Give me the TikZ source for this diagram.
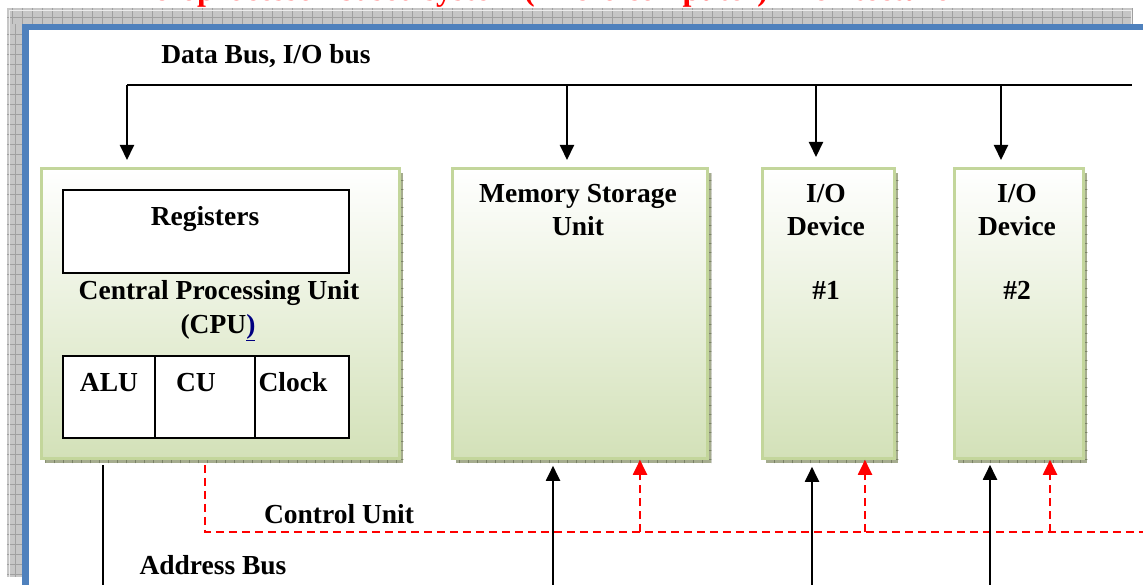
\documentclass[tikz,border=0pt]{standalone}
\usepackage{fontspec}
\setmainfont{Liberation Serif}
\usetikzlibrary{arrows.meta,patterns.meta,shadows}
\definecolor{frameblue}{HTML}{4F81BD}
\definecolor{bandgray}{HTML}{C6C6C6}
\definecolor{bandline}{HTML}{A0A0A0}
\definecolor{boxgreen}{HTML}{D3E1B8}
\definecolor{boxborder}{HTML}{C3D69B}
\definecolor{shadowc}{HTML}{A5AC8E}
\definecolor{shadowtick}{HTML}{7A8266}
\definecolor{linkblue}{HTML}{000080}
\begin{document}
\begin{tikzpicture}[x=1pt,y=-1pt,
  lbl/.style={font=\fontsize{27.5}{32}\selectfont\bfseries, inner sep=0pt, anchor=base},
  unitbox/.style={draw=boxborder, line width=2.8pt, top color=white, bottom color=boxgreen,
    anchor=north west, inner sep=0pt, minimum height=290pt,
    general shadow={shadow xshift=4pt, shadow yshift=-5pt, fill=shadowc},
    general shadow={shadow xshift=4pt, shadow yshift=-5pt, pattern={Lines[angle=90,distance=9pt,line width=0.6pt]}, pattern color=shadowtick},
    general shadow={shadow xshift=4pt, shadow yshift=-5pt, pattern={Lines[angle=0,distance=9pt,line width=0.6pt]}, pattern color=shadowtick}},
  partbox/.style={draw=black, line width=2pt, fill=white, anchor=north west, inner sep=0pt},
  busline/.style={line width=2.4pt},
  plainline/.style={line width=2pt},
  darr/.style={line width=2pt, -{Triangle[length=15pt,width=14pt]}},
  ctl/.style={red, line width=2pt, dash pattern=on 8pt off 5pt},
  ctlarr/.style={ctl, -{Triangle[length=15pt,width=14pt]}}
]
\useasboundingbox (0,0) rectangle (1143,585);
\begin{scope}
\clip (0,0) rectangle (1143,585);
% gray grid band
\fill[bandgray] (7,8) rectangle (1133,577);
\foreach \x in {12,22,...,1132} \draw[bandline,line width=0.6pt] (\x,8) -- (\x,24);
\foreach \y in {34,44,...,574} \draw[bandline,line width=0.6pt] (7,\y) -- (22,\y);
\draw[bandline,line width=0.6pt] (7,17.5) -- (1133,17.5);
\draw[bandline,line width=0.6pt] (15,24) -- (15,577);
\draw[white!85!gray,line width=0.8pt] (9,577) -- (9,10) -- (1131,10) -- (1131,24);
% blue frame
\draw[frameblue, line width=6.5pt, fill=white] (25.5,27) rectangle (1180,640);
% title (cut off at the top edge, as in the reference)
\node[font=\fontsize{32}{36}\selectfont\bfseries, text=red, anchor=base west, inner sep=0pt] (title) at (114,0.5) {Microprocessor-based system (Micro computer) Architecture};

% boxes
\node[unitbox, minimum width=358pt] (cpu) at (40,167) {};
\node[unitbox, minimum width=255pt] (mem) at (451,167) {};
\node[unitbox, minimum width=132pt] (io1) at (761,167) {};
\node[unitbox, minimum width=129pt] (io2) at (953,167) {};

\node[partbox, minimum width=286pt, minimum height=83pt] (reg) at (62,189) {};
\node[partbox, minimum width=92pt, minimum height=82pt] (alu) at (62,355) {};
\node[partbox, minimum width=100pt, minimum height=82pt] (cu) at (154,355) {};
\node[partbox, minimum width=94pt, minimum height=82pt] (clk) at (254,355) {};

% texts
\node[lbl] (dbus) at (266,64) {Data Bus, I/O bus};
\node[lbl] (regt) at (205,226) {Registers};
\node[lbl] (cput1) at (219,300) {Central Processing Unit};
\node[lbl] (cput2) at (218,333) {(CPU\textcolor{linkblue}{\underline{)}}};
\node[lbl] (alut) at (109,391) {ALU};
\node[lbl] (cut) at (196,391) {CU};
\node[lbl] (clkt) at (293,391) {Clock};
\node[lbl] (memt1) at (578,203) {Memory Storage};
\node[lbl] (memt2) at (578,236) {Unit};
\node[lbl] (io1a) at (826,203) {I/O};
\node[lbl] (io1b) at (826,236) {Device};
\node[lbl] (io1c) at (826,300) {\#1};
\node[lbl] (io2a) at (1017,203) {I/O};
\node[lbl] (io2b) at (1017,236) {Device};
\node[lbl] (io2c) at (1017,300) {\#2};
\node[lbl] (ctlt) at (339,523) {Control Unit};
\node[lbl] (abus) at (213,574) {Address Bus};

% data bus
\coordinate (busL) at (127,85);
\coordinate (busR) at (1132,85);
\coordinate (tm) at (567,85);
\coordinate (t1) at (816,85);
\coordinate (t2) at (1001,85);
\draw[busline] (busL) -- (busR);
\draw[darr, shorten >=7pt] (busL) -- (busL |- cpu.north);
\draw[darr, shorten >=7pt] (tm) -- (tm |- mem.north);
\draw[darr, shorten >=10pt] (t1) -- (t1 |- io1.north);
\draw[darr, shorten >=7pt] (t2) -- (t2 |- io2.north);

% control unit (dashed red)
\coordinate (cL) at (205,532);
\coordinate (cR) at (1160,532);
\coordinate (cm) at (640,532);
\coordinate (c1) at (865,532);
\coordinate (c2) at (1050,532);
\draw[ctl, shorten <=5pt] (cL |- cpu.south) -- (cL) -- (cR);
\draw[ctlarr] (cm) -- (cm |- mem.south);
\draw[ctlarr] (c1) -- (c1 |- io1.south);
\draw[ctlarr] (c2) -- (c2 |- io2.south);

% address bus
\coordinate (a0) at (103,595);
\coordinate (a1) at (553,595);
\coordinate (a2) at (812,595);
\coordinate (a3) at (990,595);
\draw[plainline, shorten <=5pt] (a0 |- cpu.south) -- (a0);
\draw[darr, shorten >=6pt] (a1) -- (a1 |- mem.south);
\draw[darr, shorten >=7pt] (a2) -- (a2 |- io1.south);
\draw[darr, shorten >=5pt] (a3) -- (a3 |- io2.south);
\end{scope}
\end{tikzpicture}
\end{document}
